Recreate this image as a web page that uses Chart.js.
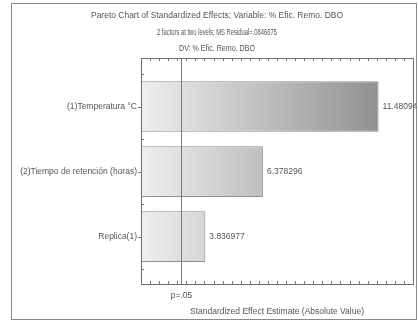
<!DOCTYPE html>
<html>
<head>
<meta charset="utf-8">
<script src="https://cdn.jsdelivr.net/npm/chart.js@4/dist/chart.umd.min.js"></script>
<style>
  html, body { margin: 0; padding: 0; background: #fff; }
  #wrap { width: 418px; height: 322px; }
</style>
</head>
<body>
<div id="wrap"><canvas id="pareto"></canvas></div>
<script>
const factors = ['(1)Temperatura °C', '(2)Tiempo de retención (horas)', 'Replica(1)'];
const effects = [11.48094, 6.378296, 3.836977];
const effectLabels = ['11.48094', '6.378296', '3.836977'];
const pCritical = 2.7764;   // t(0.975, 4)
const pLabel = 'p=.05';
const titleLines = [
  'Pareto Chart of Standardized Effects; Variable: % Efic. Remo. DBO',
  '2 factors at two levels; MS Residual=.0846675',
  'DV: % Efic. Remo. DBO'
];
const xTitle = 'Standardized Effect Estimate (Absolute Value)';

const FAMILY = '"Liberation Sans", Arial, sans-serif';
const FONT = '8.5px ' + FAMILY;
const INK = '#555';

const decorations = {
  id: 'decorations',
  afterDatasetsDraw(chart) {
    const { ctx, chartArea: a, scales } = chart;
    const x = scales.x, y = scales.y;
    ctx.save();

    // critical value line
    const px = Math.round(x.getPixelForValue(pCritical)) + 0.5;
    ctx.strokeStyle = '#7a7a7a';
    ctx.lineWidth = 1;
    ctx.beginPath();
    ctx.moveTo(px, a.top);
    ctx.lineTo(px, a.bottom);
    ctx.stroke();

    // plot border
    ctx.strokeStyle = '#6e6e6e';
    ctx.strokeRect(Math.round(a.left) + 0.5, Math.round(a.top) + 0.5,
                   Math.round(a.right - a.left), Math.round(a.bottom - a.top));

    // minor ticks on top and bottom edges
    ctx.strokeStyle = '#777';
    ctx.beginPath();
    for (let v = 1; v <= 13.001; v += 0.4) {
      const tx = Math.round(x.getPixelForValue(v)) + 0.5;
      ctx.moveTo(tx, a.top); ctx.lineTo(tx, a.top + 3);
      ctx.moveTo(tx, a.bottom); ctx.lineTo(tx, a.bottom - 3);
    }
    // category ticks on the left edge
    factors.forEach((f, i) => {
      const c = Math.round(y.getPixelForValue(i)) + 0.5;
      ctx.moveTo(a.left - 3, c); ctx.lineTo(a.left, c);
      [i - 0.5, i + 0.5].forEach(b => {
        const by = Math.round(y.getPixelForValue(b)) + 0.5;
        ctx.moveTo(a.left, by); ctx.lineTo(a.left + 3, by);
      });
    });
    ctx.stroke();

    // value labels
    ctx.font = FONT;
    ctx.fillStyle = INK;
    ctx.textBaseline = 'middle';
    ctx.textAlign = 'left';
    effects.forEach((v, i) => {
      ctx.fillText(effectLabels[i], x.getPixelForValue(v) + 4, y.getPixelForValue(i));
    });

    // axis captions
    ctx.textAlign = 'center';
    ctx.fillText(pLabel, px, a.bottom + 12);
    ctx.fillText(xTitle, 277, a.bottom + 28);

    // header
    const cx = 217;
    ctx.fillText(titleLines[0], cx, 16, 252);
    ctx.fillText(titleLines[1], cx, 32.5, 120);
    ctx.fillText(titleLines[2], cx, 48.5, 76);

    // outer frame
    ctx.strokeStyle = '#8a8a8a';
    ctx.strokeRect(11.5, 3.5, 405, 316);
    ctx.restore();
  }
};

function barGradient(context) {
  const { chart } = context;
  const a = chart.chartArea;
  if (!a) return '#cccccc';
  const g = chart.ctx.createLinearGradient(a.left, 0, a.right, 0);
  g.addColorStop(0, '#efefef');
  g.addColorStop(1, '#838383');
  return g;
}

new Chart(document.getElementById('pareto'), {
  type: 'bar',
  data: {
    datasets: [{
      data: effects.map((v, i) => ({ x: v, y: i })),
      backgroundColor: barGradient,
      borderColor: '#8c8c8c',
      borderWidth: 1,
      barPercentage: 0.78,
      categoryPercentage: 1
    }]
  },
  options: {
    indexAxis: 'y',
    responsive: true,
    maintainAspectRatio: false,
    animation: false,
    layout: { padding: { left: 0, right: 5, top: 58, bottom: 38 } },
    plugins: { legend: { display: false }, tooltip: { enabled: false } },
    scales: {
      x: {
        type: 'linear',
        min: 1,
        max: 13,
        display: false
      },
      y: {
        type: 'linear',
        reverse: true,
        offset: false,
        min: -0.746,
        max: 2.73,
        grid: { display: false, drawTicks: false, offset: false },
        border: { display: false },
        afterBuildTicks: scale => { scale.ticks = factors.map((f, i) => ({ value: i })); },
        afterFit: scale => { scale.width = 141; },
        ticks: {
          padding: 4,
          color: INK,
          font: { family: FAMILY, size: 8.5 },
          callback: v => factors[v] ?? ''
        }
      }
    }
  },
  plugins: [decorations]
});
</script>
</body>
</html>
